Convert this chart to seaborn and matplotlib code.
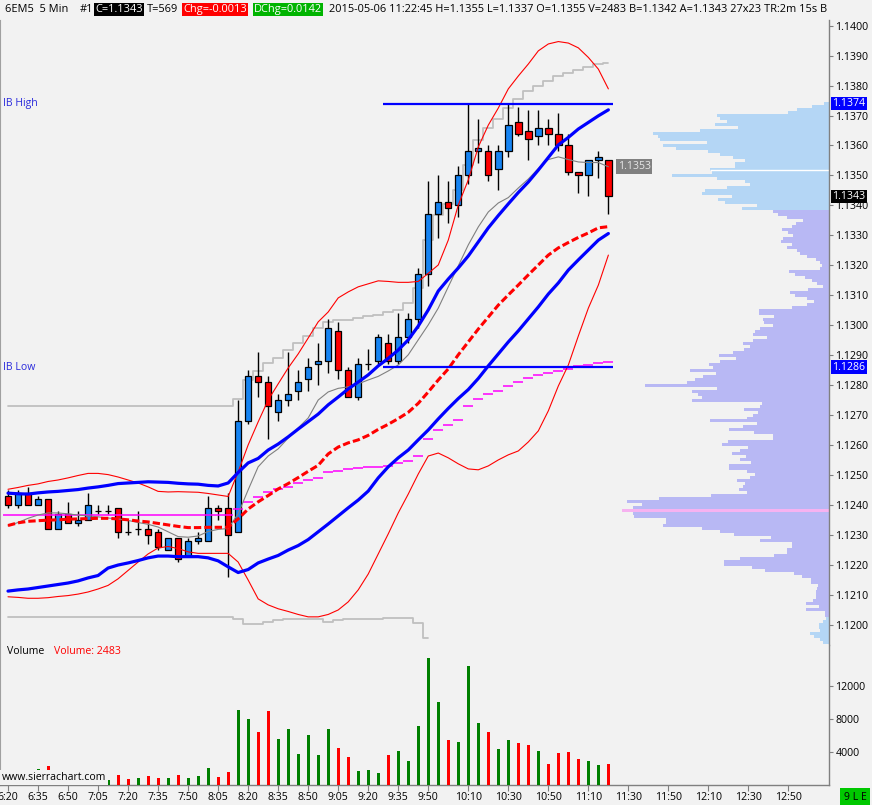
import numpy as np
import matplotlib
matplotlib.use("Agg")
import matplotlib.pyplot as plt
import matplotlib.transforms as mtransforms
import seaborn as sns

# ---------------- data (6EM5, 5 min bars from 6:20 to 11:20) ----------------
first_bar_time = "6:20"

open_ = [1.1243, 1.1240, 1.1244, 1.1240, 1.1242, 1.1232, 1.1237, 1.1234, 1.1235, 1.1238,
         1.1238, 1.1239, 1.1231, 1.1232, 1.1232, 1.1231, 1.1225, 1.1229, 1.1223, 1.1228,
         1.1228, 1.1239, 1.1239, 1.1231, 1.1268, 1.1283, 1.1281, 1.1271, 1.1275, 1.1278,
         1.1282, 1.1287, 1.1288, 1.1298, 1.1285, 1.1276, 1.1287, 1.1288, 1.1294, 1.1288,
         1.1296, 1.1302, 1.1317, 1.1337, 1.1341, 1.1340, 1.1350, 1.1358, 1.1358, 1.1352,
         1.1358, 1.1368, 1.1365, 1.1363, 1.1366, 1.1364, 1.1360, 1.1351, 1.1350, 1.1355,
         1.1355]
high = [1.1245, 1.1245, 1.1246, 1.1243, 1.1242, 1.1238, 1.1241, 1.1238, 1.1244, 1.1240,
        1.1240, 1.1239, 1.1235, 1.1238, 1.1234, 1.1232, 1.1229, 1.1229, 1.1229, 1.1231,
        1.1243, 1.1240, 1.1244, 1.1275, 1.1285, 1.1291, 1.1283, 1.1277, 1.1291, 1.1285,
        1.1289, 1.1294, 1.1302, 1.1301, 1.1286, 1.1289, 1.1292, 1.1297, 1.1297, 1.1304,
        1.1304, 1.1319, 1.1348, 1.1350, 1.1348, 1.1353, 1.1374, 1.1369, 1.1360, 1.1360,
        1.1374, 1.1373, 1.1372, 1.1372, 1.1369, 1.1371, 1.1364, 1.1351, 1.1355, 1.1358,
        1.1355]
low = [1.1239, 1.1239, 1.1240, 1.1240, 1.1232, 1.1232, 1.1234, 1.1233, 1.1235, 1.1237,
       1.1237, 1.1229, 1.1230, 1.1230, 1.1227, 1.1225, 1.1225, 1.1221, 1.1223, 1.1227,
       1.1228, 1.1235, 1.1216, 1.1231, 1.1267, 1.1276, 1.1262, 1.1268, 1.1273, 1.1275,
       1.1278, 1.1280, 1.1284, 1.1282, 1.1276, 1.1275, 1.1285, 1.1287, 1.1287, 1.1287,
       1.1294, 1.1299, 1.1313, 1.1329, 1.1334, 1.1336, 1.1347, 1.1354, 1.1348, 1.1345,
       1.1356, 1.1363, 1.1355, 1.1360, 1.1360, 1.1358, 1.1350, 1.1344, 1.1343, 1.1349,
       1.1337]
close = [1.1240, 1.1244, 1.1240, 1.1242, 1.1232, 1.1237, 1.1234, 1.1235, 1.1240, 1.1238,
         1.1238, 1.1231, 1.1231, 1.1232, 1.1230, 1.1226, 1.1229, 1.1222, 1.1228, 1.1229,
         1.1239, 1.1238, 1.1230, 1.1268, 1.1283, 1.1281, 1.1273, 1.1275, 1.1277, 1.1281,
         1.1286, 1.1288, 1.1299, 1.1285, 1.1276, 1.1287, 1.1287, 1.1296, 1.1288, 1.1296,
         1.1302, 1.1317, 1.1337, 1.1341, 1.1339, 1.1350, 1.1358, 1.1359, 1.1350, 1.1358,
         1.1367, 1.1364, 1.1362, 1.1366, 1.1364, 1.1360, 1.1351, 1.1350, 1.1355, 1.1356,
         1.1343]

volume = [1200, 900, 1000, 1940, 2300, 1300, 1100, 800, 1400, 700,
          600, 1180, 690, 850, 1050, 850, 850, 1180, 850, 1050,
          2060, 930, 1540, 9050, 7960, 6390, 8930, 5540, 6750, 3720,
          6020, 3600, 6750, 4450, 3360, 1660, 1780, 1420, 3600, 4080,
          2870, 7110, 15320, 10020, 5420, 5180, 14390, 7480, 6390, 4330,
          5420, 5060, 4810, 4080, 2510, 3840, 3960, 3110, 2870, 2390,
          2483]
vol_up = [0, 1, 0, 1, 0, 1, 0, 1, 1, 1,
          1, 0, 0, 1, 0, 0, 1, 0, 1, 1,
          1, 0, 0, 1, 1, 0, 0, 1, 1, 1,
          1, 1, 1, 0, 0, 1, 1, 1, 0, 1,
          1, 1, 1, 1, 0, 1, 1, 1, 0, 1,
          1, 0, 0, 1, 0, 0, 0, 0, 1, 1,
          0]

# thick blue bands
band_upper = [1.12439, 1.12437, 1.12436, 1.12440, 1.12443, 1.12445, 1.12448, 1.12451, 1.12456, 1.12460,
              1.12465, 1.12471, 1.12473, 1.12475, 1.12477, 1.12476, 1.12475, 1.12472, 1.12470, 1.12469,
              1.12465, 1.12463, 1.12473, 1.12508, 1.12540, 1.12555, 1.12583, 1.12603, 1.12627, 1.12653,
              1.12678, 1.12703, 1.12734, 1.12760, 1.12787, 1.12810, 1.12834, 1.12864, 1.12889, 1.12917,
              1.12951, 1.12997, 1.13051, 1.13114, 1.13154, 1.13191, 1.13231, 1.13278, 1.13325, 1.13366,
              1.13405, 1.13443, 1.13478, 1.13518, 1.13560, 1.13602, 1.13627, 1.13655, 1.13677, 1.13699,
              1.13719]
band_lower = [1.12112, 1.12116, 1.12119, 1.12124, 1.12129, 1.12134, 1.12139, 1.12146, 1.12156, 1.12164,
              1.12189, 1.12199, 1.12206, 1.12214, 1.12223, 1.12229, 1.12229, 1.12227, 1.12227, 1.12227,
              1.12223, 1.12213, 1.12193, 1.12174, 1.12184, 1.12206, 1.12219, 1.12231, 1.12249, 1.12264,
              1.12284, 1.12310, 1.12336, 1.12363, 1.12390, 1.12416, 1.12446, 1.12490, 1.12527, 1.12557,
              1.12583, 1.12617, 1.12650, 1.12687, 1.12722, 1.12755, 1.12785, 1.12822, 1.12864, 1.12904,
              1.12944, 1.12981, 1.13021, 1.13061, 1.13104, 1.13141, 1.13184, 1.13218, 1.13251, 1.13284,
              1.13306]
# red dashed middle line
band_mid = [1.12331, 1.12340, 1.12345, 1.12347, 1.12349, 1.12350, 1.12352, 1.12353, 1.12354, 1.12355,
            1.12355, 1.12353, 1.12350, 1.12346, 1.12343, 1.12338, 1.12333, 1.12328, 1.12324, 1.12324,
            1.12325, 1.12325, 1.12325, 1.12353, 1.12386, 1.12410, 1.12431, 1.12453, 1.12471, 1.12491,
            1.12512, 1.12532, 1.12570, 1.12593, 1.12607, 1.12617, 1.12632, 1.12652, 1.12669, 1.12688,
            1.12709, 1.12739, 1.12777, 1.12817, 1.12854, 1.12901, 1.12944, 1.12987, 1.13027, 1.13067,
            1.13101, 1.13134, 1.13168, 1.13201, 1.13234, 1.13258, 1.13276, 1.13293, 1.13308, 1.13325,
            1.13329]
# thin red bollinger-like bands
bb_upper = [1.12452, 1.12458, 1.12465, 1.12470, 1.12478, 1.12483, 1.12490, 1.12498, 1.12505, 1.12505,
            1.12501, 1.12493, 1.12483, 1.12473, 1.12460, 1.12445, 1.12443, 1.12444, 1.12443, 1.12442,
            1.12438, 1.12433, 1.12428, 1.12510, 1.12600, 1.12677, 1.12750, 1.12804, 1.12857, 1.12904,
            1.12957, 1.13011, 1.13044, 1.13091, 1.13111, 1.13128, 1.13138, 1.13148, 1.13146, 1.13143,
            1.13143, 1.13146, 1.13173, 1.13201, 1.13284, 1.13401, 1.13485, 1.13595, 1.13668, 1.13725,
            1.13789, 1.13832, 1.13872, 1.13916, 1.13939, 1.13947, 1.13942, 1.13926, 1.13894, 1.13855,
            1.13789]
bb_lower = [1.12093, 1.12091, 1.12088, 1.12088, 1.12090, 1.12094, 1.12097, 1.12102, 1.12109, 1.12119,
            1.12131, 1.12153, 1.12181, 1.12209, 1.12236, 1.12256, 1.12261, 1.12254, 1.12243, 1.12238,
            1.12238, 1.12238, 1.12238, 1.12209, 1.12149, 1.12086, 1.12066, 1.12053, 1.12044, 1.12034,
            1.12026, 1.12026, 1.12034, 1.12049, 1.12076, 1.12116, 1.12169, 1.12236, 1.12303, 1.12373,
            1.12436, 1.12503, 1.12563, 1.12573, 1.12557, 1.12537, 1.12520, 1.12517, 1.12530, 1.12550,
            1.12567, 1.12580, 1.12610, 1.12647, 1.12714, 1.12797, 1.12867, 1.12964, 1.13057, 1.13134,
            1.13234]
# thin gray moving average
gray_ma = [1.12330, 1.12341, 1.12355, 1.12366, 1.12373, 1.12373, 1.12370, 1.12366, 1.12363, 1.12360,
           1.12356, 1.12353, 1.12348, 1.12341, 1.12335, 1.12326, 1.12310, 1.12294, 1.12292, 1.12296,
           1.12311, 1.12318, 1.12321, 1.12370, 1.12450, 1.12527, 1.12563, 1.12587, 1.12623, 1.12657,
           1.12690, 1.12750, 1.12777, 1.12789, 1.12794, 1.12804, 1.12817, 1.12829, 1.12847, 1.12867,
           1.12901, 1.12951, 1.13001, 1.13057, 1.13128, 1.13198, 1.13268, 1.13328, 1.13378, 1.13408,
           1.13426, 1.13458, 1.13488, 1.13523, 1.13553, 1.13562, 1.13553, 1.13545, 1.13543, 1.13543,
           1.13529]
# silver step lines
step_upper = [1.12730, 1.12730, 1.12730, 1.12730, 1.12730, 1.12730, 1.12730, 1.12730, 1.12730, 1.12730,
              1.12730, 1.12730, 1.12730, 1.12730, 1.12730, 1.12730, 1.12730, 1.12730, 1.12730, 1.12730,
              1.12730, 1.12730, 1.12730, 1.12754, 1.12817, 1.12847, 1.12874, 1.12890, 1.12917, 1.12941,
              1.12964, 1.12991, 1.13011, 1.13017, 1.13017, 1.13024, 1.13031, 1.13034, 1.13044, 1.13051,
              1.13074, 1.13124, 1.13284, 1.13368, 1.13405, 1.13451, 1.13535, 1.13618, 1.13658, 1.13687,
              1.13724, 1.13754, 1.13782, 1.13799, 1.13815, 1.13832, 1.13843, 1.13852, 1.13861, 1.13871,
              1.13874]
step_lower = [1.12024, 1.12024, 1.12024, 1.12024, 1.12024, 1.12024, 1.12024, 1.12024, 1.12024, 1.12024,
              1.12024, 1.12024, 1.12024, 1.12024, 1.12024, 1.12024, 1.12024, 1.12024, 1.12024, 1.12024,
              1.12024, 1.12024, 1.12024, 1.12018, 1.12002, 1.12001, 1.12010, 1.12014, 1.12018, 1.12018,
              1.12018, 1.12018, 1.12008, 1.12014, 1.12018, 1.12018, 1.12018, 1.12018, 1.12021, 1.12021,
              1.12021, 1.12005, 1.11955]
# magenta per-bar line
vwap_bar = [1.12366, 1.12366, 1.12366, 1.12366, 1.12366, 1.12366, 1.12366, 1.12366, 1.12366, 1.12366,
            1.12366, 1.12366, 1.12366, 1.12366, 1.12366, 1.12366, 1.12366, 1.12366, 1.12366, 1.12366,
            1.12366, 1.12366, 1.12366, 1.12386, 1.12409, 1.12425, 1.12442, 1.12453, 1.12461, 1.12472,
            1.12483, 1.12489, 1.12509, 1.12514, 1.12520, 1.12522, 1.12526, 1.12528, 1.12531, 1.12539,
            1.12547, 1.12564, 1.12619, 1.12649, 1.12666, 1.12682, 1.12730, 1.12753, 1.12769, 1.12780,
            1.12797, 1.12809, 1.12823, 1.12833, 1.12839, 1.12848, 1.12855, 1.12862, 1.12867, 1.12872,
            1.12877]

ib_high = 1.1374
ib_low = 1.1286
ib_start_time = "9:30"
last_price = 1.1343
marker_price = 1.1353

# volume profile (ticks of 0.0001 from the top price downward)
profile_top = 1.1374
profile_volume = [4, 16, 31, 40, 111, 108, 101, 113, 90, 128,
                  175, 170, 168, 121, 165, 152, 120, 108, 95, 83,
                  93, 93, 118, 116, 156, 111, 83, 78, 101, 123,
                  126, 96, 110, 103, 71, 86,
                  55, 50, 41, 25, 32, 36, 46, 40, 35, 45,
                  47, 36, 41, 31, 28, 21, 12, 8, 6, 8,
                  39, 33, 23, 16, 11, 5, 20, 38, 33, 21,
                  14, 21, 36, 69, 69, 54, 65, 64,
                  55, 68, 73, 75, 61, 75, 85, 78, 84, 95,
                  109, 92, 108, 119, 115, 138, 112, 125, 133, 141,
                  183, 111, 136, 130, 126, 136, 66, 68, 84, 70,
                  75, 81, 118, 71, 85, 99, 74, 55, 55, 100,
                  106, 80, 88, 96, 82, 88, 77, 99, 99, 81,
                  73, 78, 91, 83, 85, 89, 81, 117, 169, 201,
                  186, 195, 206, 195, 194, 162, 162, 165, 126, 108,
                  94, 57, 68, 36, 36, 41, 41, 54, 88, 104,
                  104, 76, 63, 34, 26, 17, 17, 10, 11, 12,
                  12, 12, 15, 22, 9, 22, 3, 3,
                  2, 5, 9, 9, 8, 18, 14, 8, 5]
value_area_high = 1.1338
value_area_low = 1.1203
poc_price = 1.1238

tick_times = ["6:20", "6:35", "6:50", "7:05", "7:20", "7:35", "7:50", "8:05", "8:20",
              "8:35", "8:50", "9:05", "9:20", "9:35", "9:50", "10:10", "10:30", "10:50",
              "11:10", "11:30", "11:50", "12:10", "12:30", "12:50"]
price_ticks = [1.1200, 1.1210, 1.1220, 1.1230, 1.1240, 1.1250, 1.1260, 1.1270, 1.1280,
               1.1290, 1.1300, 1.1310, 1.1320, 1.1330, 1.1340, 1.1350, 1.1360, 1.1370,
               1.1380, 1.1390, 1.1400]
volume_ticks = [4000, 8000, 12000]


def minutes(t):
    hh, mm = t.split(":")
    return int(hh) * 60 + int(mm)


def bar_of(t):
    return (minutes(t) - minutes(first_bar_time)) / 5.0


# ---------------- styling ----------------
sns.set_theme(style="white")
plt.rcParams['font.family'] = ['Open Sans', 'DejaVu Sans']
BG = '#f2f2f2'
FS = 7.6
HFS = 7.95

W, H = 872, 805
fig = plt.figure(figsize=(W / 100, H / 100), dpi=100, facecolor=BG)


def fx(px):
    return px / W


def fy(py):
    return 1 - py / H


X_LEFT, X_RIGHT = -0.8, 82.0
price_ax = fig.add_axes([0, fy(645), fx(828.5), (645 - 20) / H])
vol_ax = fig.add_axes([0, fy(784.7), fx(828.5), (784.7 - 645) / H])
for ax in (price_ax, vol_ax):
    ax.set_facecolor(BG)
    ax.set_xlim(X_LEFT, X_RIGHT)

o = np.array(open_); h = np.array(high); l = np.array(low); c = np.array(close)
idx = np.arange(len(o))

# ---------------- volume profile ----------------
levels = np.round(profile_top - 0.0001 * np.arange(len(profile_volume)), 4)
pv = np.array(profile_volume, dtype=float)
scale = 0.1
prof_colors = []
for p in levels:
    if abs(p - poc_price) < 1e-6:
        prof_colors.append('#f6b2f0')
    elif value_area_low - 1e-6 <= p <= value_area_high + 1e-6:
        prof_colors.append('#b8b8f4')
    else:
        prof_colors.append('#b4d6f5')
price_ax.barh(levels, pv * scale, left=X_RIGHT - pv * scale, height=0.0001,
              color=prof_colors, linewidth=0, zorder=1)
price_ax.hlines(1.13517, X_RIGHT - 11.8, X_RIGHT, color='white', lw=1.0, zorder=1.5)

# ---------------- indicator lines ----------------
sns.lineplot(x=idx, y=step_upper, ax=price_ax, color='#c0c0c0', lw=1.3,
             drawstyle='steps-mid', zorder=2)
sns.lineplot(x=idx[:len(step_lower)], y=step_lower, ax=price_ax, color='#c0c0c0', lw=1.3,
             drawstyle='steps-mid', zorder=2)

# ---------------- candles ----------------
up = c >= o
body_col = np.where(up, '#1784f2', '#ff0000')
price_ax.vlines(idx, l, h, color='black', lw=1.0, zorder=5)
price_ax.bar(idx, np.abs(c - o), bottom=np.minimum(o, c), width=0.64,
             color=body_col, edgecolor='black', linewidth=0.9, zorder=6)

price_ax.hlines(vwap_bar, idx - 0.5, idx + 0.5, color='#ff00ff', lw=1.1, zorder=7)
sns.lineplot(x=idx, y=gray_ma, ax=price_ax, color='#808080', lw=0.8, zorder=7)
sns.lineplot(x=idx, y=bb_upper, ax=price_ax, color='#ff0000', lw=0.8, zorder=7)
sns.lineplot(x=idx, y=bb_lower, ax=price_ax, color='#ff0000', lw=0.8, zorder=7)
sns.lineplot(x=idx, y=band_mid, ax=price_ax, color='#ff0000', lw=2.2, zorder=8)
price_ax.lines[-1].set_linestyle((0, (2.4, 1.0)))
sns.lineplot(x=idx, y=band_upper, ax=price_ax, color='#0000ff', lw=2.3, zorder=8)
sns.lineplot(x=idx, y=band_lower, ax=price_ax, color='#0000ff', lw=2.3, zorder=8)

ib_x0 = bar_of(ib_start_time) - 0.5
ib_x1 = idx[-1] + 0.5
price_ax.hlines([ib_high, ib_low], ib_x0, ib_x1, color='#0000ff', lw=1.6, zorder=9)

# gray label with marker price
price_ax.text(bar_of("11:25") - 0.05, marker_price, f"{marker_price:.4f}", color='#e6e6e6',
              fontsize=FS, va='center', ha='left', zorder=10,
              bbox=dict(boxstyle='square,pad=0.15', fc='#808080', ec='none'))

# IB labels
price_ax.text(-0.5, ib_high, "IB High", color='#2b2bdc', fontsize=FS, va='center', ha='left', zorder=10)
price_ax.text(-0.5, ib_low, "IB Low", color='#2b2bdc', fontsize=FS, va='center', ha='left', zorder=10)

# ---------------- price axis ----------------
price_ax.set_ylim(1.11932, 1.14019)
price_ax.set_yticks(price_ticks)
price_ax.set_yticklabels([f"{p:.4f}" for p in price_ticks])
price_ax.yaxis.tick_right()
price_ax.tick_params(axis='y', which='both', right=True, left=False, length=3, width=0.8,
                     color='#808080', labelsize=FS, pad=2, labelcolor='black')
price_ax.tick_params(axis='x', bottom=False, labelbottom=False)
price_ax.set_xlabel(""); price_ax.set_ylabel("")
for side in ('top', 'bottom'):
    price_ax.spines[side].set_visible(False)
price_ax.spines['right'].set_color('#808080'); price_ax.spines['right'].set_linewidth(1.0)
price_ax.spines['left'].set_color('#a0a0a0'); price_ax.spines['left'].set_linewidth(0.8)
price_ax.grid(False)

trans = mtransforms.blended_transform_factory(price_ax.transAxes, price_ax.transData)
xlab = 832.5 / 828.5
for val, fc, tc in [(ib_high, '#0000ff', 'white'), (last_price, 'black', 'white'),
                    (ib_low, '#0000ff', 'white')]:
    price_ax.text(xlab, val, f"{val:.4f}", transform=trans, color=tc, fontsize=FS,
                  va='center', ha='left', clip_on=False, zorder=20,
                  bbox=dict(boxstyle='square,pad=0.12', fc=fc, ec='none'))

# ---------------- volume ----------------
vcol = ['#008000' if u else '#ff0000' for u in vol_up]
vol_ax.bar(idx, volume, width=0.3, color=vcol, linewidth=0, zorder=3)
vol_ax.set_ylim(0, 16932)
vol_ax.set_yticks(volume_ticks)
vol_ax.set_yticklabels([str(v) for v in volume_ticks])
vol_ax.yaxis.tick_right()
vol_ax.tick_params(axis='y', right=True, left=False, length=3, width=0.8, color='#808080',
                   labelsize=FS, pad=2, labelcolor='black')
tick_pos = [bar_of(t) for t in tick_times]
vol_ax.set_xticks(tick_pos)
vol_ax.set_xticklabels(tick_times)
vol_ax.tick_params(axis='x', bottom=True, length=4, width=0.8, color='#808080',
                   labelsize=FS, pad=1.5, labelcolor='black')
vol_ax.spines['top'].set_visible(False)
for side in ('right', 'bottom'):
    vol_ax.spines[side].set_color('#808080'); vol_ax.spines[side].set_linewidth(1.0)
vol_ax.spines['left'].set_color('#a0a0a0'); vol_ax.spines['left'].set_linewidth(0.8)
vol_ax.grid(False)
vol_ax.set_xlabel(""); vol_ax.set_ylabel("")

vol_ax.text(-0.1, 16200, "Volume", color='black', fontsize=FS, va='center', ha='left', zorder=10)
vol_ax.text(4.55, 16200, f"Volume: {volume[-1]}", color='#ff0000', fontsize=FS,
            va='center', ha='left', zorder=10)
vol_ax.text(-0.62, 900, "www.sierrachart.com", color='black', fontsize=FS, va='center', ha='left',
            zorder=10, bbox=dict(boxstyle='square,pad=0.2', fc=BG, ec='none'))

# ---------------- header ----------------
hdr = fig.add_axes([0, fy(20), fx(828.5), 20 / H])
hdr.set_xlim(0, 828.5)
hdr.set_ylim(20, 0)
hdr.axis('off')


def htxt(x, s, color='black', bg=None):
    t = hdr.text(x, 9.5, s, color=color, fontsize=HFS, va='center', ha='left', clip_on=True)
    if bg:
        t.set_bbox(dict(boxstyle='square,pad=0.12', fc=bg, ec='none'))
    return t


htxt(5, "6EM5  5 Min")
htxt(80, "#1")
htxt(95, "C=1.1343", 'white', 'black')
htxt(147, "T=569")
htxt(183, "Chg=-0.0013", 'white', '#ff0000')
htxt(254, "DChg=0.0142", 'white', '#00b400')
htxt(329, "2015-05-06 11:22:45 H=1.1355 L=1.1337 O=1.1355 V=2483 B=1.1342 A=1.1343 27x23 TR:2m 15s B")

fig.text(fx(855), fy(797), "9 L E", color='black', fontsize=FS, ha='center', va='center',
         bbox=dict(boxstyle='square,pad=0.3', fc='#00c800', ec='none'))

fig.savefig("out.png", dpi=100, facecolor=BG)
